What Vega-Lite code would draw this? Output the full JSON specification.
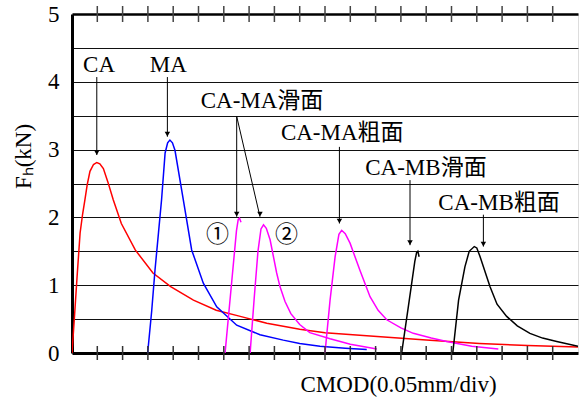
{
  "$schema": "https://vega.github.io/schema/vega-lite/v6.json",
  "width": 506,
  "height": 339,
  "autosize": {"type": "none"},
  "padding": {"left": 72, "top": 14, "right": 1, "bottom": 44},
  "background": "white",
  "config": {"view": {"stroke": "#dddddd", "strokeWidth": 1}, "font": "Liberation Serif"},
  "datasets": {
    "curves": [
      {"s": "CA", "x": 0, "y": 0}, {"s": "CA", "x": 0.1, "y": 0.55}, {"s": "CA", "x": 0.2, "y": 1.12}, {"s": "CA", "x": 0.32, "y": 1.77}, {"s": "CA", "x": 0.42, "y": 2.05}, {"s": "CA", "x": 0.51, "y": 2.26}, {"s": "CA", "x": 0.6, "y": 2.48}, {"s": "CA", "x": 0.71, "y": 2.68}, {"s": "CA", "x": 0.85, "y": 2.78}, {"s": "CA", "x": 0.98, "y": 2.81}, {"s": "CA", "x": 1.1, "y": 2.79}, {"s": "CA", "x": 1.24, "y": 2.72}, {"s": "CA", "x": 1.42, "y": 2.52}, {"s": "CA", "x": 1.63, "y": 2.26}, {"s": "CA", "x": 1.95, "y": 1.91}, {"s": "CA", "x": 2.5, "y": 1.52}, {"s": "CA", "x": 3.2, "y": 1.18}, {"s": "CA", "x": 3.9, "y": 0.98}, {"s": "CA", "x": 4.8, "y": 0.78}, {"s": "CA", "x": 5.7, "y": 0.63}, {"s": "CA", "x": 6.65, "y": 0.54}, {"s": "CA", "x": 7.7, "y": 0.44}, {"s": "CA", "x": 9.0, "y": 0.35}, {"s": "CA", "x": 10.0, "y": 0.3}, {"s": "CA", "x": 12.2, "y": 0.24}, {"s": "CA", "x": 14.0, "y": 0.19}, {"s": "CA", "x": 16.1, "y": 0.14}, {"s": "CA", "x": 18.0, "y": 0.11}, {"s": "CA", "x": 20.0, "y": 0.09},
      {"s": "MA", "x": 2.99, "y": 0}, {"s": "MA", "x": 3.15, "y": 0.62}, {"s": "MA", "x": 3.28, "y": 1.22}, {"s": "MA", "x": 3.42, "y": 1.78}, {"s": "MA", "x": 3.54, "y": 2.26}, {"s": "MA", "x": 3.68, "y": 2.95}, {"s": "MA", "x": 3.78, "y": 3.1}, {"s": "MA", "x": 3.87, "y": 3.14}, {"s": "MA", "x": 3.97, "y": 3.1}, {"s": "MA", "x": 4.07, "y": 2.99}, {"s": "MA", "x": 4.4, "y": 2.26}, {"s": "MA", "x": 4.73, "y": 1.52}, {"s": "MA", "x": 5.19, "y": 1.03}, {"s": "MA", "x": 5.72, "y": 0.68}, {"s": "MA", "x": 6.51, "y": 0.41}, {"s": "MA", "x": 7.43, "y": 0.27}, {"s": "MA", "x": 8.35, "y": 0.19}, {"s": "MA", "x": 9.0, "y": 0.14}, {"s": "MA", "x": 9.8, "y": 0.1}, {"s": "MA", "x": 10.8, "y": 0.07}, {"s": "MA", "x": 11.65, "y": 0.05},
      {"s": "CA-MA滑面①", "x": 6.05, "y": 0}, {"s": "CA-MA滑面①", "x": 6.3, "y": 1.0}, {"s": "CA-MA滑面①", "x": 6.5, "y": 1.8}, {"s": "CA-MA滑面①", "x": 6.57, "y": 1.97}, {"s": "CA-MA滑面①", "x": 6.62, "y": 1.99}, {"s": "CA-MA滑面①", "x": 6.68, "y": 1.93},
      {"s": "CA-MA滑面②", "x": 7.04, "y": 0}, {"s": "CA-MA滑面②", "x": 7.2, "y": 0.8}, {"s": "CA-MA滑面②", "x": 7.35, "y": 1.5}, {"s": "CA-MA滑面②", "x": 7.47, "y": 1.83}, {"s": "CA-MA滑面②", "x": 7.57, "y": 1.89}, {"s": "CA-MA滑面②", "x": 7.68, "y": 1.84}, {"s": "CA-MA滑面②", "x": 7.83, "y": 1.67}, {"s": "CA-MA滑面②", "x": 8.09, "y": 1.18}, {"s": "CA-MA滑面②", "x": 8.22, "y": 0.98}, {"s": "CA-MA滑面②", "x": 8.42, "y": 0.76}, {"s": "CA-MA滑面②", "x": 8.65, "y": 0.58}, {"s": "CA-MA滑面②", "x": 9.0, "y": 0.42}, {"s": "CA-MA滑面②", "x": 9.4, "y": 0.3}, {"s": "CA-MA滑面②", "x": 10.2, "y": 0.21}, {"s": "CA-MA滑面②", "x": 11.0, "y": 0.13}, {"s": "CA-MA滑面②", "x": 12.05, "y": 0.06},
      {"s": "CA-MA粗面", "x": 10.0, "y": 0}, {"s": "CA-MA粗面", "x": 10.2, "y": 0.78}, {"s": "CA-MA粗面", "x": 10.4, "y": 1.42}, {"s": "CA-MA粗面", "x": 10.55, "y": 1.75}, {"s": "CA-MA粗面", "x": 10.66, "y": 1.81}, {"s": "CA-MA粗面", "x": 10.8, "y": 1.76}, {"s": "CA-MA粗面", "x": 10.99, "y": 1.62}, {"s": "CA-MA粗面", "x": 11.38, "y": 1.22}, {"s": "CA-MA粗面", "x": 11.78, "y": 0.83}, {"s": "CA-MA粗面", "x": 12.1, "y": 0.63}, {"s": "CA-MA粗面", "x": 12.44, "y": 0.49}, {"s": "CA-MA粗面", "x": 13.0, "y": 0.37}, {"s": "CA-MA粗面", "x": 13.49, "y": 0.29}, {"s": "CA-MA粗面", "x": 14.2, "y": 0.22}, {"s": "CA-MA粗面", "x": 14.81, "y": 0.17}, {"s": "CA-MA粗面", "x": 15.8, "y": 0.1}, {"s": "CA-MA粗面", "x": 16.85, "y": 0.06},
      {"s": "CA-MB滑面", "x": 13.03, "y": 0}, {"s": "CA-MB滑面", "x": 13.3, "y": 0.7}, {"s": "CA-MB滑面", "x": 13.55, "y": 1.35}, {"s": "CA-MB滑面", "x": 13.62, "y": 1.48}, {"s": "CA-MB滑面", "x": 13.67, "y": 1.5}, {"s": "CA-MB滑面", "x": 13.72, "y": 1.42},
      {"s": "CA-MB粗面", "x": 15.05, "y": 0}, {"s": "CA-MB粗面", "x": 15.28, "y": 0.78}, {"s": "CA-MB粗面", "x": 15.53, "y": 1.27}, {"s": "CA-MB粗面", "x": 15.7, "y": 1.5}, {"s": "CA-MB粗面", "x": 15.9, "y": 1.57}, {"s": "CA-MB粗面", "x": 16.0, "y": 1.55}, {"s": "CA-MB粗面", "x": 16.13, "y": 1.42}, {"s": "CA-MB粗面", "x": 16.52, "y": 0.98}, {"s": "CA-MB粗面", "x": 16.8, "y": 0.72}, {"s": "CA-MB粗面", "x": 17.18, "y": 0.54}, {"s": "CA-MB粗面", "x": 17.6, "y": 0.4}, {"s": "CA-MB粗面", "x": 18.1, "y": 0.29}, {"s": "CA-MB粗面", "x": 18.6, "y": 0.22}, {"s": "CA-MB粗面", "x": 19.16, "y": 0.17}, {"s": "CA-MB粗面", "x": 20.0, "y": 0.1}
    ],
    "divs": [
      {"d": 1}, {"d": 2}, {"d": 3}, {"d": 4}, {"d": 5}, {"d": 6}, {"d": 7}, {"d": 8}, {"d": 9}, {"d": 10},
      {"d": 11}, {"d": 12}, {"d": 13}, {"d": 14}, {"d": 15}, {"d": 16}, {"d": 17}, {"d": 18}, {"d": 19}
    ],
    "arrows": [
      {"x": 0.98, "y": 4.07, "x2": 0.98, "y2": 2.92},
      {"x": 3.77, "y": 4.07, "x2": 3.77, "y2": 3.19},
      {"x": 6.51, "y": 3.49, "x2": 6.51, "y2": 2.01},
      {"x": 6.51, "y": 3.49, "x2": 7.43, "y2": 2.01},
      {"x": 10.57, "y": 3.04, "x2": 10.57, "y2": 1.91},
      {"x": 13.36, "y": 2.55, "x2": 13.36, "y2": 1.59},
      {"x": 16.26, "y": 2.04, "x2": 16.26, "y2": 1.57}
    ],
    "labels": [
      {"t": "CA", "x": 1.07, "y": 4.25},
      {"t": "MA", "x": 3.81, "y": 4.25},
      {"t": "CA-MA滑面", "x": 7.51, "y": 3.71},
      {"t": "CA-MA粗面", "x": 10.68, "y": 3.24},
      {"t": "CA-MB滑面", "x": 13.99, "y": 2.73},
      {"t": "CA-MB粗面", "x": 16.88, "y": 2.21},
      {"t": "①", "x": 5.75, "y": 1.74},
      {"t": "②", "x": 8.48, "y": 1.74}
    ]
  },
  "layer": [
    {
      "data": {"name": "curves"},
      "mark": {"type": "line", "strokeWidth": 1.5, "clip": true},
      "encoding": {
        "x": {"field": "x", "type": "quantitative", "scale": {"domain": [0, 20], "nice": false, "zero": false},
          "axis": {"orient": "bottom", "values": [0, 20], "labels": false, "ticks": false, "grid": false, "domainColor": "black", "domainWidth": 3, "title": "CMOD(0.05mm/div)", "titleFont": "Liberation Serif", "titleFontSize": 23, "titleFontWeight": "normal", "titleColor": "black", "titleX": 326, "titleY": 31, "titleBaseline": "middle", "titleAnchor": "middle"}},
        "y": {"field": "y", "type": "quantitative", "scale": {"domain": [0, 5], "nice": false},
          "axis": {"orient": "left", "values": [0,1,2,3,4,5], "ticks": false, "grid": false, "labelFont": "Liberation Serif", "labelFontSize": 23, "labelColor": "black", "labelPadding": 13, "domainColor": "black", "domainWidth": 3, "title": "Fₕ(kN)", "titleFont": "Liberation Serif", "titleFontSize": 23, "titleFontWeight": "normal", "titleColor": "black", "titleX": -49, "titleY": 142, "titleBaseline": "middle", "titleAngle": -90}},
        "color": {"field": "s", "type": "nominal", "legend": null,
          "scale": {"domain": ["CA", "MA", "CA-MA滑面①", "CA-MA滑面②", "CA-MA粗面", "CA-MB滑面", "CA-MB粗面"],
                    "range": ["#ff0000", "#0000ff", "#ff00ff", "#ff00ff", "#ff00ff", "#000000", "#000000"]}}
      }
    },
    {
      "data": {"values": [{"g": 0}]},
      "mark": {"type": "rule", "opacity": 0},
      "encoding": {
        "y": {"datum": 0, "type": "quantitative",
          "axis": {"orient": "right", "values": [0.5,1,1.5,2,2.5,3,3.5,4,4.5], "grid": true, "gridColor": "#111", "gridWidth": 1, "labels": false, "ticks": false, "domain": false, "title": null}}
      }
    },
    {
      "data": {"values": [{"g": 0}]},
      "mark": {"type": "rule", "opacity": 0},
      "encoding": {
        "x": {"datum": 0, "type": "quantitative",
          "axis": {"orient": "top", "values": [0, 20], "labels": false, "ticks": false, "grid": false, "domainColor": "black", "domainWidth": 2.5, "title": null}}
      }
    },
    {
      "data": {"name": "arrows"},
      "mark": {"type": "rule", "color": "black", "strokeWidth": 1},
      "encoding": {
        "x": {"field": "x", "type": "quantitative", "axis": null},
        "y": {"field": "y", "type": "quantitative", "axis": null},
        "x2": {"field": "x2"},
        "y2": {"field": "y2"}
      }
    },
    {
      "data": {"name": "arrows"},
      "mark": {"type": "point", "shape": "triangle-down", "filled": true, "color": "black", "size": 30, "opacity": 1, "yOffset": -2.5},
      "encoding": {
        "x": {"field": "x2", "type": "quantitative", "axis": null},
        "y": {"field": "y2", "type": "quantitative", "axis": null}
      }
    },
    {
      "data": {"name": "labels"},
      "mark": {"type": "text", "font": "'Liberation Serif', 'Noto Sans CJK SC'", "fontSize": 23, "color": "black", "align": "center", "baseline": "middle"},
      "encoding": {
        "x": {"field": "x", "type": "quantitative", "axis": null},
        "y": {"field": "y", "type": "quantitative", "axis": null},
        "text": {"field": "t"}
      }
    },
    {
      "data": {"name": "divs"},
      "mark": {"type": "tick", "orient": "vertical", "color": "#333", "thickness": 1.5, "size": 14, "opacity": 1},
      "encoding": {
        "x": {"field": "d", "type": "quantitative", "axis": null},
        "y": {"datum": 0, "type": "quantitative", "axis": null}
      }
    },
    {
      "data": {"name": "divs"},
      "mark": {"type": "tick", "orient": "vertical", "color": "#444", "thickness": 1.5, "size": 16, "opacity": 1},
      "encoding": {
        "x": {"field": "d", "type": "quantitative", "axis": null},
        "y": {"datum": 5, "type": "quantitative", "axis": null}
      }
    }
  ]
}
